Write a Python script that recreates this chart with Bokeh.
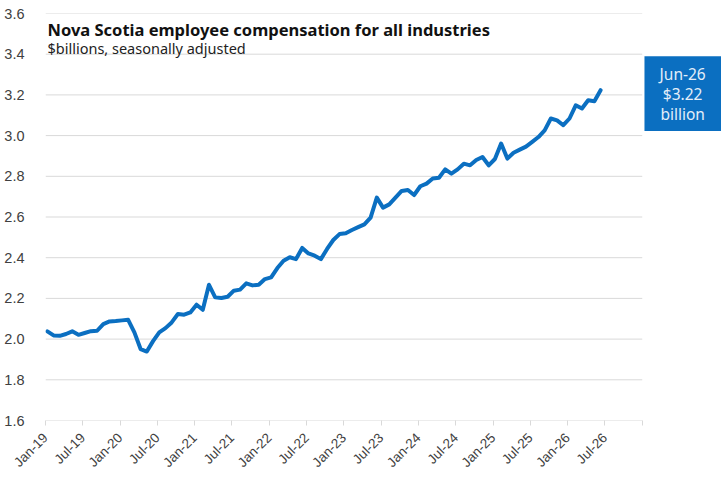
import pandas as pd
from bokeh.plotting import figure
from bokeh.models import FixedTicker, PrintfTickFormatter, Label, ColumnDataSource, BoxAnnotation
from bokeh.embed import file_html
from bokeh.resources import INLINE
import math

# ---- data ----
start_month = "2019-01"
values = [
    2.038, 2.018, 2.016, 2.025, 2.038, 2.021, 2.030, 2.039, 2.041, 2.074, 2.087, 2.089,
    2.092, 2.095, 2.033, 1.951, 1.939, 1.990, 2.033, 2.054, 2.082, 2.123, 2.120, 2.131,
    2.169, 2.144, 2.267, 2.205, 2.202, 2.208, 2.238, 2.243, 2.274, 2.264, 2.267, 2.295,
    2.303, 2.349, 2.385, 2.402, 2.393, 2.448, 2.421, 2.410, 2.393, 2.443, 2.487, 2.516,
    2.520, 2.536, 2.550, 2.564, 2.597, 2.695, 2.646, 2.662, 2.695, 2.728, 2.733, 2.708,
    2.751, 2.764, 2.789, 2.793, 2.834, 2.813, 2.834, 2.862, 2.854, 2.880, 2.895, 2.854,
    2.885, 2.961, 2.887, 2.916, 2.931, 2.946, 2.969, 2.993, 3.026, 3.084, 3.075, 3.051,
    3.084, 3.149, 3.133, 3.174, 3.169, 3.223,
]
months = [d.strftime("%b-%y") for d in pd.date_range(start_month, periods=len(values), freq="MS")]
tick_labels = ["Jan-19", "Jul-19", "Jan-20", "Jul-20", "Jan-21", "Jul-21", "Jan-22", "Jul-22",
               "Jan-23", "Jul-23", "Jan-24", "Jul-24", "Jan-25", "Jul-25", "Jan-26", "Jul-26", ""]
y_ticks = [1.6, 1.8, 2.0, 2.2, 2.4, 2.6, 2.8, 3.0, 3.2, 3.4, 3.6]

title_text = "Nova Scotia employee compensation for all industries"
subtitle_text = "$billions, seasonally adjusted"
callout_lines = [months[-1], f"${values[-1]:.2f}", "billion"]

BLUE = "#0b6fc1"
GRID = "#d9d9d9"
TXT = "#404040"

AXIS_END = 96  # months from Jan-19 to Jan-27
PX_PER_MONTH = 6.216
W, H = 721, 481
LEFT, TOP, BOTTOM = 45, 13, 61
x_max = (W - LEFT) / PX_PER_MONTH

x_pos = [i + 0.3 for i in range(len(values))]
src = ColumnDataSource(dict(x=x_pos, y=values, month=months))

p = figure(width=W, height=H, output_backend="svg", toolbar_location=None,
           x_range=(0, x_max), y_range=(1.6, 3.6),
           min_border_left=LEFT, min_border_right=0, min_border_top=TOP, min_border_bottom=BOTTOM)
p.outline_line_color = None
p.background_fill_color = "white"
p.border_fill_color = "white"

# gridlines and axis line limited to the date span
grid_ys = y_ticks[1:]
p.segment(x0=[0] * len(grid_ys), x1=[AXIS_END] * len(grid_ys), y0=grid_ys, y1=grid_ys,
          line_color=GRID, line_width=1)
p.segment(x0=[0], x1=[AXIS_END], y0=[y_ticks[0]], y1=[y_ticks[0]], line_color=GRID, line_width=1)

p.line("x", "y", source=src, line_color=BLUE, line_width=4, line_join="round", line_cap="round")

# x axis
xt = list(range(0, AXIS_END + 1, 6))
p.xaxis.ticker = FixedTicker(ticks=xt)
p.xaxis.major_label_overrides = {t: lab for t, lab in zip(xt, tick_labels)}
p.xaxis.major_label_orientation = math.pi / 4
p.xaxis.major_label_text_font = "Liberation Sans"
p.xaxis.major_label_text_font_size = "13.5px"
p.xaxis.major_label_text_color = TXT
p.xaxis.axis_line_color = None
p.xaxis.major_tick_line_color = GRID
p.xaxis.major_tick_out = 5
p.xaxis.major_tick_in = 0
p.xaxis.minor_tick_line_color = None
p.xaxis.major_label_standoff = 10
p.xgrid.grid_line_color = None

# y axis
p.yaxis.ticker = FixedTicker(ticks=y_ticks)
p.yaxis.formatter = PrintfTickFormatter(format="%.1f")
p.yaxis.major_label_text_font = "Liberation Sans"
p.yaxis.major_label_text_font_size = "14.5px"
p.yaxis.major_label_text_color = TXT
p.yaxis.axis_line_color = None
p.yaxis.major_tick_line_color = None
p.yaxis.minor_tick_line_color = None
p.yaxis.major_label_standoff = 15
p.ygrid.grid_line_color = None

# titles
p.add_layout(Label(x=0.32, y=3.522, text=title_text, text_font="Noto Sans",
                   text_font_style="bold", text_font_size="16.5px", text_color="#111111",
                   text_baseline="alphabetic"))
p.add_layout(Label(x=0.32, y=3.43, text=subtitle_text, text_font="Noto Sans",
                   text_font_size="14.5px", text_color="#222222", text_baseline="alphabetic"))

# latest value callout
p.add_layout(BoxAnnotation(left=96.36, right=x_max + 2, top=3.39, bottom=3.023,
                           fill_color=BLUE, fill_alpha=1.0, line_color=None))
for ly, txt in zip([3.301, 3.203, 3.108], callout_lines):
    p.add_layout(Label(x=102.5, y=ly, text=txt, text_font="Noto Sans",
                       text_font_size="15.5px", text_color="#e3eef9", text_align="center",
                       text_baseline="middle"))

open("out.html", "w").write(file_html(p, INLINE))
